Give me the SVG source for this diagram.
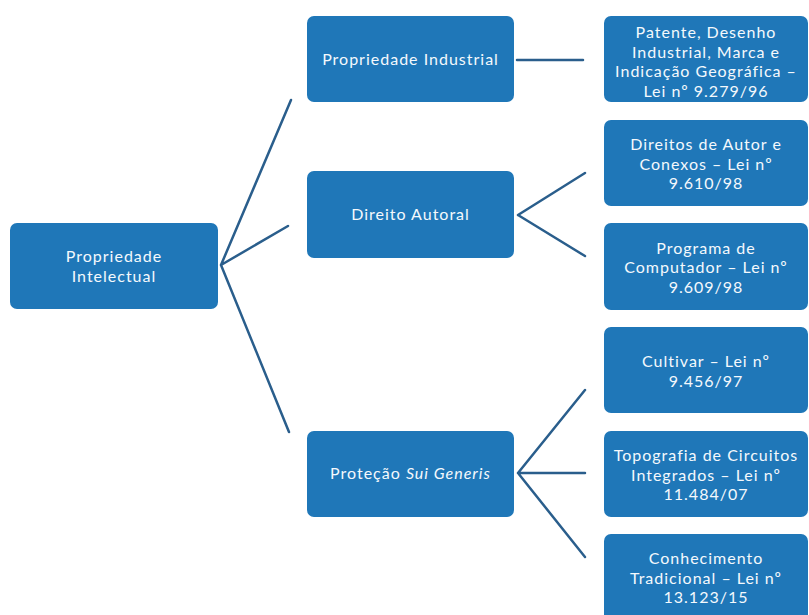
<svg xmlns="http://www.w3.org/2000/svg" width="809" height="615" viewBox="0 0 809 615">
<style>
.box{fill:#1f77b8;}
.t{font-family:Lato,"Open Sans",sans-serif;font-size:16px;letter-spacing:1px;fill:#f4f9fd;text-anchor:middle;}
.c{stroke:#2a5e8c;stroke-width:2.5;fill:none;stroke-linecap:round;}
</style>
<rect width="809" height="615" fill="#ffffff"/>
<g id="connectors">
<path class="c" d="M221,265 L291,100 M221,265 L288,226 M221,265 L289,432"/>
<path class="c" d="M517,60 L583,60"/>
<path class="c" d="M518,215 L585,173 M518,215 L585,256"/>
<path class="c" d="M518,473 L585,390 M518,473 L585,473 M518,473 L585,557"/>
</g>
<g id="root">
<rect class="box" x="10" y="223" width="208" height="86" rx="7"/>
<text class="t" x="114" y="262">Propriedade</text>
<text class="t" x="114" y="282">Intelectual</text>
</g>
<g id="industrial">
<rect class="box" x="307" y="16" width="207" height="86" rx="7"/>
<text class="t" x="410.5" y="65">Propriedade Industrial</text>
</g>
<g id="autoral">
<rect class="box" x="307" y="171" width="207" height="87" rx="7"/>
<text class="t" x="410.5" y="220">Direito Autoral</text>
</g>
<g id="suigeneris">
<rect class="box" x="307" y="431" width="207" height="86" rx="7"/>
<text class="t" x="410.5" y="479">Proteção <tspan font-style="italic">Sui Generis</tspan></text>
</g>
<g id="patente">
<rect class="box" x="604" y="16" width="204" height="86" rx="7"/>
<text class="t" x="706" y="38">Patente, Desenho</text>
<text class="t" x="706" y="57.5">Industrial, Marca e</text>
<text class="t" x="706" y="77">Indicação Geográfica –</text>
<text class="t" x="706" y="96.5">Lei nº 9.279/96</text>
</g>
<g id="direitos">
<rect class="box" x="604" y="120" width="204" height="86" rx="7"/>
<text class="t" x="706" y="150">Direitos de Autor e</text>
<text class="t" x="706" y="169.5">Conexos – Lei nº</text>
<text class="t" x="706" y="189">9.610/98</text>
</g>
<g id="programa">
<rect class="box" x="604" y="223" width="204" height="87" rx="7"/>
<text class="t" x="706" y="253.5">Programa de</text>
<text class="t" x="706" y="273">Computador – Lei nº</text>
<text class="t" x="706" y="292.5">9.609/98</text>
</g>
<g id="cultivar">
<rect class="box" x="604" y="327" width="204" height="86" rx="7"/>
<text class="t" x="706" y="367">Cultivar – Lei nº</text>
<text class="t" x="706" y="386.5">9.456/97</text>
</g>
<g id="topografia">
<rect class="box" x="604" y="431" width="204" height="86" rx="7"/>
<text class="t" x="706" y="461">Topografia de Circuitos</text>
<text class="t" x="706" y="480.5">Integrados – Lei nº</text>
<text class="t" x="706" y="500">11.484/07</text>
</g>
<g id="conhecimento">
<rect class="box" x="604" y="534" width="204" height="88" rx="7"/>
<text class="t" x="706" y="564">Conhecimento</text>
<text class="t" x="706" y="583.5">Tradicional – Lei nº</text>
<text class="t" x="706" y="603">13.123/15</text>
</g>
</svg>
